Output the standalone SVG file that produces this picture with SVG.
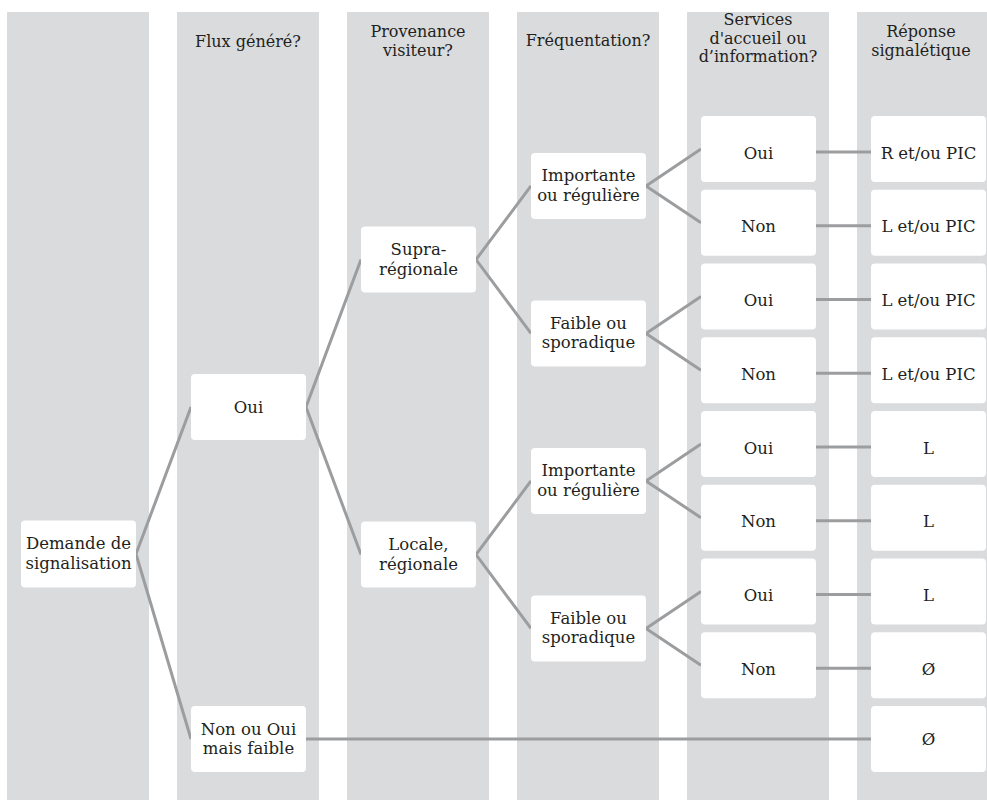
<svg xmlns="http://www.w3.org/2000/svg" width="987" height="800" viewBox="0 0 987 800">
<style>
.col{fill:#dadbdd}
.box{fill:#ffffff}
.c{fill:none;stroke:#9c9d9f;stroke-width:3;stroke-linejoin:miter}
text{font-family:'DejaVu Serif',serif;font-size:16.5px;fill:#231f20;text-anchor:middle}
.h{font-size:16px}
</style>
<rect width="987" height="800" fill="#ffffff"/>
<g id="columns">
<rect class="col" x="7" y="12" width="142" height="788"/>
<rect class="col" x="177" y="12" width="142" height="788"/>
<rect class="col" x="347" y="12" width="142" height="788"/>
<rect class="col" x="517" y="12" width="142" height="788"/>
<rect class="col" x="687" y="12" width="142" height="788"/>
<rect class="col" x="857" y="12" width="130" height="788"/>
</g>
<g id="headers">
<text class="h" x="248" y="47">Flux généré?</text>
<text class="h" x="418" y="37">Provenance</text>
<text class="h" x="418" y="55.5">visiteur?</text>
<text class="h" x="588" y="46">Fréquentation?</text>
<text class="h" x="758" y="25">Services</text>
<text class="h" x="758" y="43.5">d'accueil ou</text>
<text class="h" x="758" y="62">d’information?</text>
<text class="h" x="921" y="37">Réponse</text>
<text class="h" x="921" y="55.5">signalétique</text>
</g>
<g id="connectors">
<polyline class="c" points="191,407 136,554 191,739"/>
<polyline class="c" points="361,259.6 306,407 361,554.6"/>
<polyline class="c" points="531,185.9 476,259.6 531,333.4"/>
<polyline class="c" points="531,480.9 476,554.6 531,628.4"/>
<polyline class="c" points="701,149 646,185.9 701,222.75"/>
<polyline class="c" points="701,296.5 646,333.4 701,370.25"/>
<polyline class="c" points="701,444 646,480.9 701,517.75"/>
<polyline class="c" points="701,591.5 646,628.4 701,665.25"/>
<line class="c" x1="816" y1="152" x2="871" y2="152"/>
<line class="c" x1="816" y1="225.75" x2="871" y2="225.75"/>
<line class="c" x1="816" y1="299.5" x2="871" y2="299.5"/>
<line class="c" x1="816" y1="373.25" x2="871" y2="373.25"/>
<line class="c" x1="816" y1="447" x2="871" y2="447"/>
<line class="c" x1="816" y1="520.75" x2="871" y2="520.75"/>
<line class="c" x1="816" y1="594.5" x2="871" y2="594.5"/>
<line class="c" x1="816" y1="668.25" x2="871" y2="668.25"/>
<line class="c" x1="306" y1="739" x2="871" y2="739"/>
</g>
<g id="n-demande"><rect class="box" x="21" y="520.5" width="115" height="67" rx="4"/><text x="78.5" y="549">Demande de</text><text x="78.5" y="568.5">signalisation</text></g>
<g id="n-flux-oui"><rect class="box" x="191" y="374" width="115" height="66" rx="4"/><text x="248.5" y="413">Oui</text></g>
<g id="n-flux-non"><rect class="box" x="191" y="706" width="115" height="66" rx="4"/><text x="248.5" y="734.5">Non ou Oui</text><text x="248.5" y="754">mais faible</text></g>
<g id="n-supra"><rect class="box" x="361" y="226.6" width="115" height="66" rx="4"/><text x="418.5" y="255">Supra-</text><text x="418.5" y="274.5">régionale</text></g>
<g id="n-locale"><rect class="box" x="361" y="521.6" width="115" height="66" rx="4"/><text x="418.5" y="550">Locale,</text><text x="418.5" y="569.5">régionale</text></g>
<g id="n-imp1"><rect class="box" x="531" y="152.9" width="115" height="66" rx="4"/><text x="588.5" y="181.4">Importante</text><text x="588.5" y="200.9">ou régulière</text></g>
<g id="n-faib1"><rect class="box" x="531" y="300.4" width="115" height="66" rx="4"/><text x="588.5" y="328.9">Faible ou</text><text x="588.5" y="348.4">sporadique</text></g>
<g id="n-imp2"><rect class="box" x="531" y="447.9" width="115" height="66" rx="4"/><text x="588.5" y="476.4">Importante</text><text x="588.5" y="495.9">ou régulière</text></g>
<g id="n-faib2"><rect class="box" x="531" y="595.4" width="115" height="66" rx="4"/><text x="588.5" y="623.9">Faible ou</text><text x="588.5" y="643.4">sporadique</text></g>
<g id="n-s1"><rect class="box" x="701" y="116" width="115" height="66" rx="4"/><text x="758.5" y="158.5">Oui</text></g>
<g id="n-s2"><rect class="box" x="701" y="189.75" width="115" height="66" rx="4"/><text x="758.5" y="232.25">Non</text></g>
<g id="n-s3"><rect class="box" x="701" y="263.5" width="115" height="66" rx="4"/><text x="758.5" y="306">Oui</text></g>
<g id="n-s4"><rect class="box" x="701" y="337.25" width="115" height="66" rx="4"/><text x="758.5" y="379.75">Non</text></g>
<g id="n-s5"><rect class="box" x="701" y="411" width="115" height="66" rx="4"/><text x="758.5" y="453.5">Oui</text></g>
<g id="n-s6"><rect class="box" x="701" y="484.75" width="115" height="66" rx="4"/><text x="758.5" y="527.25">Non</text></g>
<g id="n-s7"><rect class="box" x="701" y="558.5" width="115" height="66" rx="4"/><text x="758.5" y="601">Oui</text></g>
<g id="n-s8"><rect class="box" x="701" y="632.25" width="115" height="66" rx="4"/><text x="758.5" y="674.75">Non</text></g>
<g id="n-r1"><rect class="box" x="871" y="116" width="115" height="66" rx="4"/><text x="928.5" y="158.5">R et/ou PIC</text></g>
<g id="n-r2"><rect class="box" x="871" y="189.75" width="115" height="66" rx="4"/><text x="928.5" y="232.25">L et/ou PIC</text></g>
<g id="n-r3"><rect class="box" x="871" y="263.5" width="115" height="66" rx="4"/><text x="928.5" y="306">L et/ou PIC</text></g>
<g id="n-r4"><rect class="box" x="871" y="337.25" width="115" height="66" rx="4"/><text x="928.5" y="379.75">L et/ou PIC</text></g>
<g id="n-r5"><rect class="box" x="871" y="411" width="115" height="66" rx="4"/><text x="928.5" y="453.5">L</text></g>
<g id="n-r6"><rect class="box" x="871" y="484.75" width="115" height="66" rx="4"/><text x="928.5" y="527.25">L</text></g>
<g id="n-r7"><rect class="box" x="871" y="558.5" width="115" height="66" rx="4"/><text x="928.5" y="601">L</text></g>
<g id="n-r8"><rect class="box" x="871" y="632.25" width="115" height="66" rx="4"/><text x="928.5" y="674.75">Ø</text></g>
<g id="n-r9"><rect class="box" x="871" y="706" width="115" height="66" rx="4"/><text x="928.5" y="745">Ø</text></g>
</svg>
